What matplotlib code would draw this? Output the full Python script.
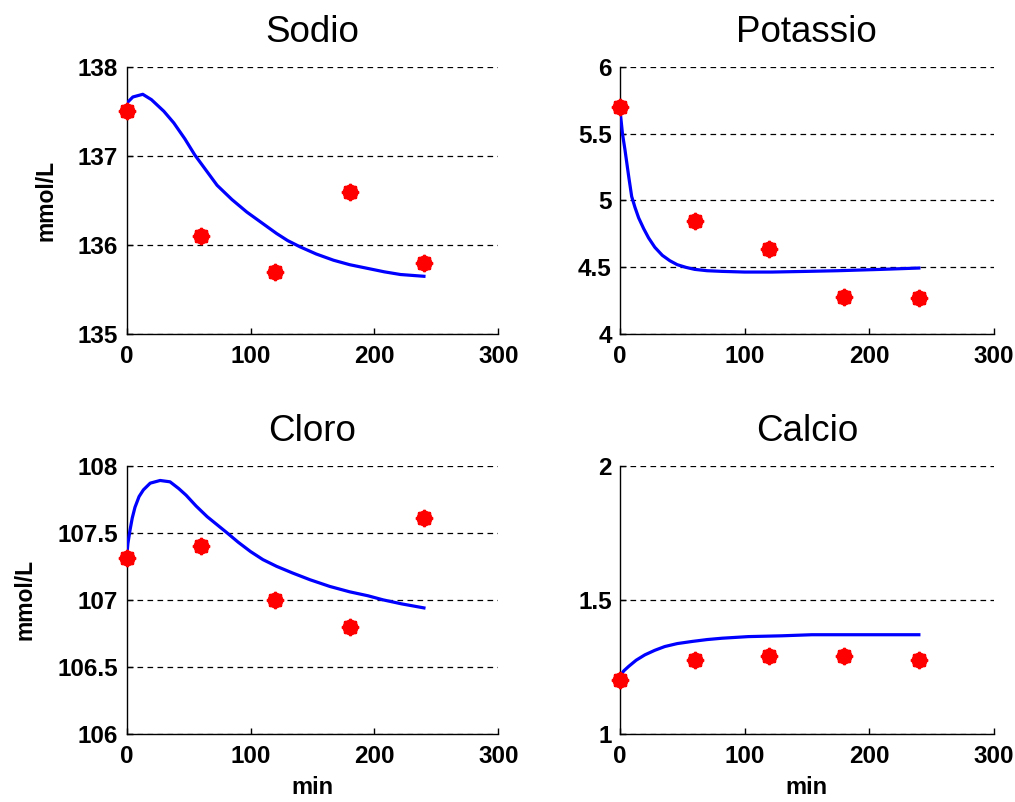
import matplotlib
matplotlib.use("Agg")
import matplotlib.pyplot as plt

plt.rcParams['font.family'] = ['Liberation Sans', 'DejaVu Sans']

# ---- data ----
t_obs = [0, 60, 120, 180, 240]

sodio_obs = [137.5, 136.1, 135.7, 136.6, 135.8]
sodio_t = [0, 5, 13, 20, 30, 38, 47, 55, 64, 73, 85, 97, 110, 121, 130, 140, 153, 167, 180, 194, 208, 221, 240]
sodio_v = [137.59, 137.66, 137.69, 137.63, 137.50, 137.37, 137.19, 137.01, 136.84, 136.67,
           136.51, 136.37, 136.24, 136.13, 136.05, 135.98, 135.90, 135.83, 135.78, 135.74,
           135.70, 135.67, 135.65]

potassio_obs = [5.70, 4.85, 4.64, 4.28, 4.27]
potassio_t = [0, 2, 4, 7, 9.4, 12, 15, 19, 23, 28, 34, 40, 46, 53, 60, 70, 82, 100, 122, 150, 175, 210, 240]
potassio_v = [5.68, 5.50, 5.38, 5.18, 5.03, 4.95, 4.87, 4.79, 4.72, 4.65, 4.59, 4.55, 4.52, 4.50,
              4.485, 4.475, 4.47, 4.465, 4.465, 4.47, 4.475, 4.485, 4.495]

cloro_obs = [107.31, 107.40, 107.0, 106.8, 107.61]
cloro_t = [0, 1, 2.7, 4.5, 6.7, 10, 13.5, 19, 27, 35, 42, 48, 56, 65, 73, 81, 90, 100, 110, 121,
           134, 148, 164, 180, 195, 207, 222, 240]
cloro_v = [107.32, 107.42, 107.52, 107.61, 107.69, 107.77, 107.82, 107.87, 107.89, 107.88, 107.83,
           107.78, 107.70, 107.62, 107.56, 107.50, 107.43, 107.36, 107.30, 107.25, 107.20, 107.15,
           107.10, 107.06, 107.03, 107.00, 106.97, 106.94]

calcio_obs = [1.20, 1.277, 1.289, 1.289, 1.277]
calcio_t = [0, 3, 7, 13, 20, 28, 36, 46, 58, 70, 82, 103, 130, 154, 190, 240]
calcio_v = [1.215, 1.235, 1.252, 1.275, 1.295, 1.312, 1.326, 1.337, 1.345, 1.352, 1.357, 1.363,
            1.366, 1.370, 1.370, 1.370]

titles = ['Sodio', 'Potassio', 'Cloro', 'Calcio']
ylims = [(135, 138), (4, 6), (106, 108), (1, 2)]
yticks = [[135, 136, 137, 138], [4, 4.5, 5, 5.5, 6], [106, 106.5, 107, 107.5, 108], [1, 1.5, 2]]
ytick_labels = [['135', '136', '137', '138'], ['4', '4.5', '5', '5.5', '6'],
                ['106', '106.5', '107', '107.5', '108'], ['1', '1.5', '2']]
xticks = [0, 100, 200, 300]

curves = [(sodio_t, sodio_v, sodio_obs), (potassio_t, potassio_v, potassio_obs),
          (cloro_t, cloro_v, cloro_obs), (calcio_t, calcio_v, calcio_obs)]

fig = plt.figure(figsize=(10.15, 8.02), dpi=100)
positions = [
    [0.1248, 0.5832, 0.3661, 0.3337],
    [0.6108, 0.5832, 0.3681, 0.3337],
    [0.1248, 0.0848, 0.3661, 0.3345],
    [0.6108, 0.0848, 0.3681, 0.3345],
]

for i, pos in enumerate(positions):
    ax = fig.add_axes(pos)
    tc, vc, obs = curves[i]
    ax.plot(tc, vc, color=(0, 0, 1), lw=2.3, zorder=3, solid_joinstyle='round')
    ax.plot(t_obs, obs, linestyle='none', marker='o', markersize=10.5,
            markerfacecolor='red', markeredgecolor='red', zorder=4, clip_on=False)
    ax.plot(t_obs, obs, linestyle='none', marker=(8, 2, 0), markersize=12.5,
            markeredgewidth=1.6, markeredgecolor='red', zorder=4, clip_on=False)
    ax.set_xlim(0, 300)
    ax.set_ylim(*ylims[i])
    ax.set_xticks(xticks)
    ax.set_xticklabels([str(x) for x in xticks])
    ax.set_yticks(yticks[i])
    ax.set_yticklabels(ytick_labels[i])
    for s in ['top', 'right']:
        ax.spines[s].set_visible(False)
    for s in ['left', 'bottom']:
        ax.spines[s].set_linewidth(1.0)
    ax.tick_params(direction='in', length=4, width=1.0, labelsize=17.5)
    ax.tick_params(axis='x', pad=8)
    ax.tick_params(axis='y', pad=6)
    for lab in ax.get_xticklabels() + ax.get_yticklabels():
        lab.set_fontweight('bold')
    ax.yaxis.grid(True, linestyle=(0, (4.5, 3.5)), color='black', linewidth=0.9)
    ax.set_axisbelow(True)
    ax.set_title(titles[i], fontsize=26.5, pad=18)
    if i % 2 == 0:
        ax.set_ylabel('mmol/L', fontsize=16.5, fontweight='bold', labelpad=15)
    if i >= 2:
        ax.set_xlabel('min', fontsize=17, fontweight='bold', labelpad=6)

fig.savefig('out.png', dpi=100)
